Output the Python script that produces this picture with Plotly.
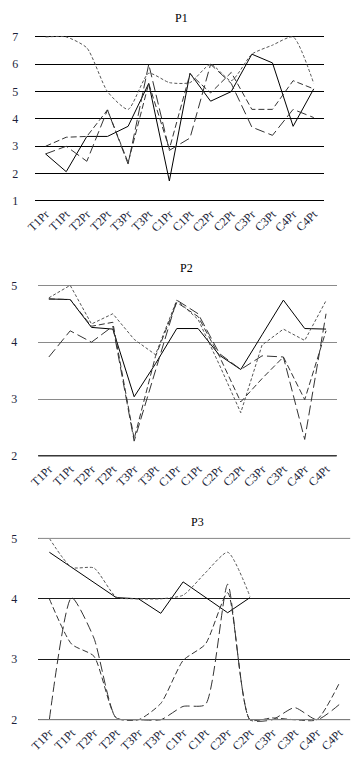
import plotly.graph_objects as go

cats = ["T1Pr", "T1Pt", "T2Pr", "T2Pt", "T3Pr", "T3Pt", "C1Pr",
        "C1Pt", "C2Pr", "C2Pt", "C3Pr", "C3Pt", "C4Pr", "C4Pt"]

# ---- P1 ----
p1_solid = [2.72, 2.07, 3.36, 3.36, 3.73, 5.30, 1.73, 5.67, 4.65, 5.00, 6.37, 6.05, 3.73, 5.10]
p1_short = [7.00, 7.00, 6.60, 5.00, 4.35, 5.67, 5.33, 5.33, 6.00, 5.40, 6.37, 6.70, 7.00, 5.30]
p1_med   = [3.00, 3.33, 3.36, 4.33, 2.40, 5.30, 2.90, 5.65, 4.95, 5.70, 4.35, 4.35, 5.40, 5.10]
p1_long  = [2.72, 3.00, 2.45, 4.33, 2.35, 6.00, 2.85, 3.30, 6.00, 5.30, 3.70, 3.40, 4.35, 4.05]

# ---- P2 ----
p2_solid = [4.76, 4.75, 4.26, 4.23, 3.04, 3.62, 4.24, 4.24, 3.77, 3.52, 4.13, 4.74, 4.24, 4.23]
p2_short = [4.78, 5.00, 4.32, 4.50, 4.05, 3.78, 4.74, 4.40, 3.60, 2.76, 3.95, 4.23, 4.03, 4.73]
p2_med   = [4.76, 4.75, 4.28, 4.35, 2.30, 3.75, 4.70, 4.45, 3.75, 2.95, 3.36, 3.74, 2.99, 4.20]
p2_long  = [3.74, 4.20, 4.00, 4.28, 2.26, 3.50, 4.74, 4.50, 3.80, 3.52, 3.76, 3.74, 2.29, 4.50]

# ---- P3 ----
p3_solid = [4.77, 4.52, 4.27, 4.02, 4.00, 3.76, 4.28, 4.03, 3.77, 4.02, None, None, None, None]
p3_short = [5.00, 4.52, 4.51, 4.03, 4.00, 4.00, 4.06, 4.43, 4.77, 4.04, None, None, None, None]
p3_med   = [4.00, 3.25, 3.05, 2.03, 2.00, 2.27, 2.98, 3.25, 4.10, 2.00, 2.03, 2.00, 2.00, 2.60]
p3_long  = [2.00, 4.02, 3.35, 2.03, 2.00, 2.00, 2.22, 2.25, 4.24, 2.00, 2.00, 2.20, 2.00, 2.25]

y1_ticks = [1, 2, 3, 4, 5, 6, 7]
y23_ticks = [2, 3, 4, 5]

W, H = 361, 764
PAD = 3  # px of headroom so edge gridlines are drawn
SERIF = "Liberation Serif, Times New Roman, serif"
TICKCOL = "#1c1f3a"

styles = {
    "solid": dict(color="#000000", width=1, dash="solid"),
    "short": dict(color="#555555", width=1, dash="3px,2px"),
    "med":   dict(color="#333333", width=1, dash="6px,3px"),
    "long":  dict(color="#333333", width=1, dash="10px,4px"),
}

panels = [
    dict(name="P1", data=[("solid", p1_solid, False), ("short", p1_short, True),
                          ("med", p1_med, False), ("long", p1_long, False)],
         yr=[1, 7], ticks=y1_ticks, xd=(26, 323), yd=(33.3, 199), tpos=(176, 14),
         grid="#000000", special={}, ystand=16, xstand=0),
    dict(name="P2", data=[("solid", p2_solid, False), ("short", p2_short, False),
                          ("med", p2_med, False), ("long", p2_long, False)],
         yr=[2, 5], ticks=y23_ticks, xd=(29, 336), yd=(284.3, 456.7), tpos=(182, 267),
         grid="#8a8a8a", special={y23_ticks[0]: "#000000"}, ystand=20, xstand=0),
    dict(name="P3", data=[("solid", p3_solid, False), ("short", p3_short, True),
                          ("med", p3_med, True), ("long", p3_long, True)],
         yr=[2, 5], ticks=y23_ticks, xd=(29, 350), yd=(540, 723.3), tpos=(193, 523),
         grid="#1a1a1a", special={y23_ticks[-1]: "#a8a8a8", y23_ticks[0]: "#9a9a9a"},
         ystand=20, xstand=0),
]

fig = go.Figure()
annotations = []
shapes = []
for i, p in enumerate(panels, start=1):
    xa = "x" if i == 1 else f"x{i}"
    ya = "y" if i == 1 else f"y{i}"
    for style, vals, smooth in p["data"]:
        fig.add_trace(go.Scatter(
            x=cats, y=vals, mode="lines", xaxis=xa, yaxis=ya,
            line=dict(shape="spline" if smooth else "linear",
                      smoothing=0.6 if smooth else None, **styles[style]),
            connectgaps=False, showlegend=False, hoverinfo="skip"))
    xkey = "xaxis" if i == 1 else f"xaxis{i}"
    ykey = "yaxis" if i == 1 else f"yaxis{i}"
    y0, y1 = p["yr"]
    top_px, bot_px = p["yd"]
    upp = (y1 - y0) / (bot_px - top_px)
    yrange = [y0 - PAD * upp, y1 + PAD * upp]
    ydom = [1 - (bot_px + PAD) / H, 1 - (top_px - PAD) / H]
    xaxis = dict(type="category", categoryorder="array", categoryarray=cats,
                 range=[-0.5, 13.5], domain=[p["xd"][0] / W, p["xd"][1] / W],
                 anchor=ya, showgrid=False, zeroline=False, showline=False,
                 tickangle=-45, ticks="", ticklabelstandoff=p["xstand"],
                 tickfont=dict(family=SERIF, size=12, color=TICKCOL),
                 fixedrange=True)
    yaxis = dict(range=yrange, domain=ydom,
                 anchor=xa, tickmode="array", tickvals=p["ticks"],
                 showgrid=True, gridcolor=p["grid"], gridwidth=1,
                 zeroline=False, showline=False, ticks="",
                 ticklabelstandoff=p["ystand"],
                 tickfont=dict(family=SERIF, size=12, color=TICKCOL),
                 fixedrange=True)
    fig.layout[xkey] = xaxis
    fig.layout[ykey] = yaxis
    for val, col in p["special"].items():
        shapes.append(dict(type="line", xref=f"{xa} domain", x0=0, x1=1,
                           yref=ya, y0=val, y1=val, layer="above",
                           line=dict(color=col, width=1)))
    annotations.append(dict(text=p["name"], x=p["tpos"][0] / W, y=1 - p["tpos"][1] / H,
                            xref="paper", yref="paper", showarrow=False,
                            xanchor="center", yanchor="middle",
                            font=dict(family=SERIF, size=12, color="#000000")))

fig.update_layout(width=W, height=H, margin=dict(l=0, r=0, t=0, b=0),
                  paper_bgcolor="white", plot_bgcolor="white",
                  annotations=annotations, shapes=shapes, showlegend=False)

fig.write_html("out.html", config={"displayModeBar": False, "staticPlot": True},
               post_script="document.body.style.margin='0';document.body.style.overflow='hidden';")
